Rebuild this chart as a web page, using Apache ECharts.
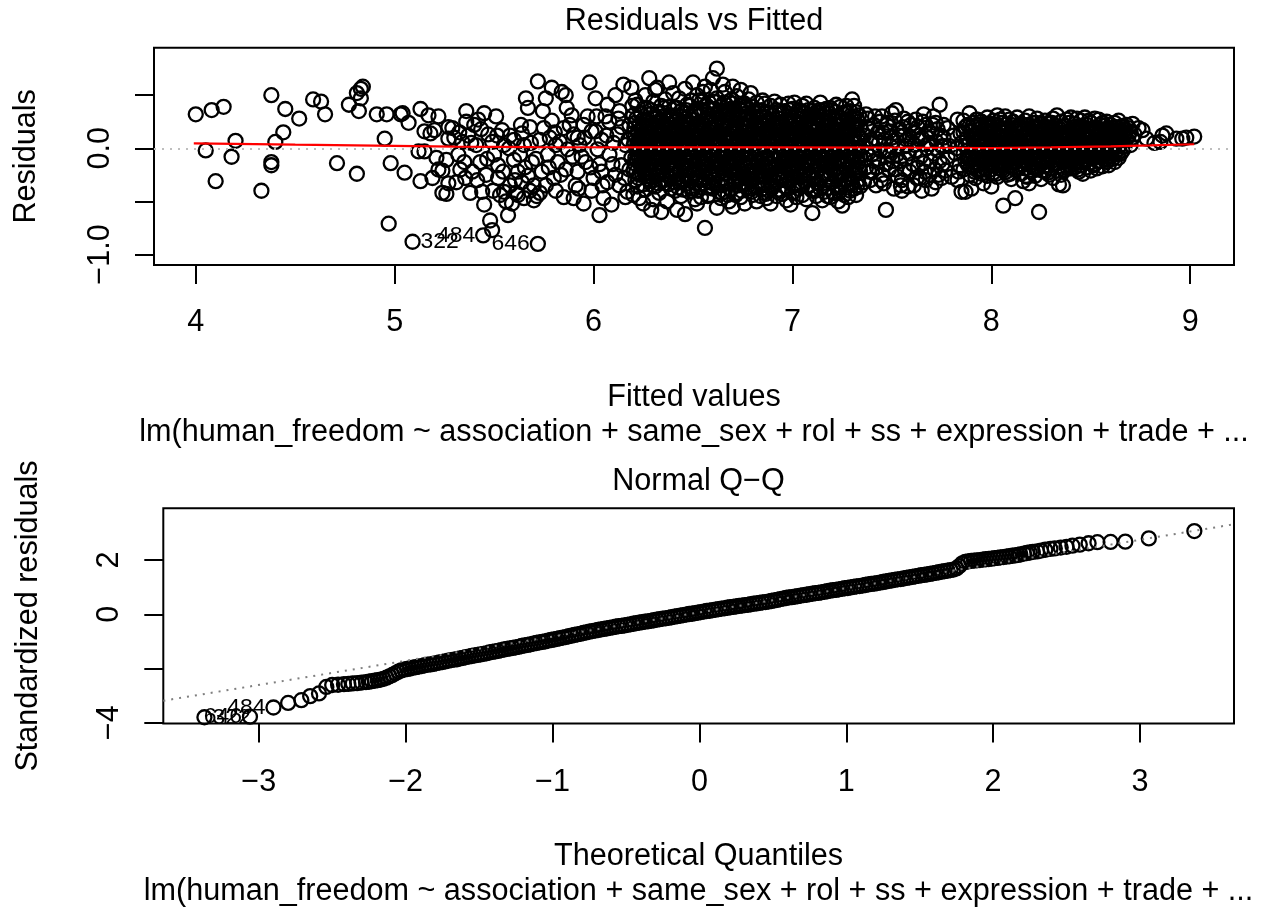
<!DOCTYPE html>
<html>
<head>
<meta charset="utf-8">
<title>lm diagnostics</title>
<script src="https://cdn.jsdelivr.net/npm/echarts@6.0.0/dist/echarts.min.js"></script>
<style>
  html, body { margin: 0; padding: 0; background: #fff; }
  #chart { width: 1272px; height: 911px; }
</style>
</head>
<body>
<div id="chart"></div>
<script>
// Residuals vs Fitted: [fitted, residual]
const residLeft = [[4.00,0.32],[4.05,-0.02],[4.08,0.36],[4.10,-0.31],[4.14,0.39],[4.18,-0.08],[4.20,0.07],[4.33,-0.40],[4.38,0.50],[4.38,-0.13],[4.38,-0.16],[4.40,0.06],[4.44,0.15],[4.45,0.37],[4.52,0.28],[4.59,0.46],[4.63,0.44],[4.65,0.32],[4.71,-0.14],[4.77,0.41],[4.81,-0.24],[4.82,0.35],[4.81,0.52],[4.83,0.56],[4.84,0.58],[4.83,0.47],[4.91,0.32],[4.95,0.09],[4.96,0.32],[4.97,-0.71],[4.98,-0.14],[5.03,0.32],[5.04,0.33],[5.05,-0.23],[5.07,0.24],[5.13,0.37],[5.12,-0.03],[5.13,-0.31],[5.15,-0.03],[5.17,0.31],[5.15,0.16],[5.18,0.14],[5.20,0.17],[5.19,-0.28],[5.22,0.30],[5.21,-0.09],[5.22,-0.20],[5.24,-0.42],[5.26,-0.43],[5.26,-0.11],[5.24,-0.21],[5.27,0.09],[5.27,0.20],[5.27,-0.33]]

const residMidA = [[5.29,0.19],[5.31,-0.32],[5.32,-0.06],[5.34,0.06],[5.35,-0.13],[5.36,0.35],[5.36,0.25],[5.38,-0.42],[5.39,-0.22],[5.40,0.22],[5.41,0.03],[5.43,-0.13],[5.44,-0.41],[5.45,0.33],[5.45,-0.53],[5.48,-0.68],[5.49,-0.77],[5.47,0.13],[5.49,0.06],[5.50,-0.06],[5.51,0.30],[5.52,-0.16],[5.52,-0.28],[5.54,0.17],[5.55,-0.41],[5.55,0.03],[5.56,-0.50],[5.57,-0.63],[5.58,-0.35],[5.60,-0.11],[5.60,0.08],[5.61,-0.42],[5.62,-0.22],[5.63,-0.06],[5.64,-0.32],[5.65,-0.47],[5.65,0.03],[5.66,0.47],[5.67,0.38],[5.68,0.20],[5.69,-0.13],[5.70,-0.49],[5.70,-0.35],[5.72,0.63],[5.73,0.08],[5.74,-0.22],[5.75,0.19],[5.76,0.47],[5.77,-0.06],[5.79,0.57],[5.79,0.26],[5.80,-0.28],[5.81,0.03],[5.82,-0.13],[5.84,0.53],[5.85,0.19],[5.85,-0.46],[5.86,0.50],[5.87,-0.01],[5.89,0.31],[5.90,0.13],[5.90,-0.47],[5.92,-0.22],[5.93,0.03],[5.95,-0.52],[5.95,0.22],[5.96,-0.13],[5.98,0.62],[5.99,0.16],[6.00,-0.28],[6.01,0.47],[6.02,-0.01],[6.03,-0.63],[6.04,0.08],[6.04,-0.22],[6.05,-0.47],[6.07,0.41],[6.08,0.25],[6.08,-0.06],[6.09,-0.53],[6.11,0.50],[6.12,0.13],[6.13,-0.35],[6.13,0.35],[6.14,-0.16],[6.15,0.60],[6.16,0.03],[6.17,-0.41],[6.18,0.22],[6.19,0.57],[6.19,-0.09],
  [5.30,0.10],[5.33,-0.20],[5.37,0.12],[5.42,0.27],[5.46,-0.25],[5.53,-0.44],[5.58,0.12],[5.59,-0.52],[5.62,-0.44],[5.64,0.14],[5.67,-0.26],[5.68,-0.40],[5.71,-0.10],[5.73,-0.42],[5.76,-0.35],[5.78,0.10],[5.81,-0.40],[5.83,0.06],[5.86,-0.20],[5.88,0.22],[5.91,-0.35],[5.92,0.10],[5.94,-0.08],[5.97,0.30],[5.99,-0.40],[6.01,0.16],[6.03,-0.15],[6.06,0.30],[6.07,-0.32],[6.10,0.05],[6.11,-0.25],[6.14,0.20],[6.16,-0.46],[6.18,-0.20],
  [5.325,0.15],[5.355,-0.28],[5.385,0.05],[5.415,-0.30],[5.435,0.18],[5.465,-0.10],[5.495,-0.40],[5.515,0.12],[5.545,-0.22],[5.575,0.00],[5.605,-0.30],[5.635,0.22],[5.655,-0.18],[5.685,0.05],[5.715,-0.45],[5.745,0.35],[5.775,-0.18],[5.805,0.15],[5.835,-0.25],[5.865,0.38],[5.895,-0.08],[5.925,-0.38],[5.955,0.10],[5.985,-0.18],[6.015,0.30],[6.045,-0.35],[6.065,0.12],[6.095,-0.15],[6.125,0.28],[6.155,-0.28],[6.175,0.08],[6.195,0.40]]

// dense part, one row per fitted value: [fitted, residuals...]
const residCore1 = [
  [6.20,0.31,0.02,-0.21,-0.44,0.14],[6.21,0.12,-0.09,-0.30,0.45,0.24],[6.22,0.41,0.05,-0.12,-0.36,-0.05],[6.23,0.22,-0.02,-0.47,0.10,-0.25],
  [6.24,0.33,0.18,-0.18,-0.08,0.01],[6.25,0.08,-0.34,0.27,-0.15,-0.52],[6.26,0.50,0.09,-0.24,-0.39,0.16],[6.27,0.26,-0.06,0.38,-0.20,0.03],
  [6.28,0.66,0.15,-0.01,-0.31,0.21],[6.29,0.36,-0.15,0.07,-0.27,-0.58],[6.30,0.28,0.04,-0.10,0.44,-0.48,0.11],[6.31,0.19,-0.04,-0.36,0.55,0.13],
  [6.32,0.57,0.07,-0.19,0.34,-0.23],[6.33,0.25,0.01,-0.13,-0.42,0.16],[6.34,0.13,-0.30,-0.60,0.40,-0.07],[6.35,0.30,0.06,-0.22,0.21,-0.11],
  [6.36,0.46,0.17,-0.05,-0.33,0.09],[6.37,0.10,-0.16,0.27,-0.01,-0.50],[6.38,0.39,0.23,-0.09,0.62,-0.27],[6.39,0.03,-0.26,0.14,0.31,-0.38],
  [6.40,0.52,0.29,-0.11,0.05,-0.20],[6.41,0.20,-0.03,-0.40,0.12,-0.17],[6.42,0.38,0.08,-0.24,-0.58,0.26],[6.43,0.47,-0.06,0.16,-0.32,-0.12],
  [6.44,0.24,0.06,-0.29,-0.45,0.13,0.35],[6.45,0.33,-0.02,-0.17,0.10,-0.39],[6.46,0.56,0.18,-0.08,-0.62,0.28],[6.47,0.12,-0.14,0.41,-0.25,0.02],
  [6.48,0.18,0.00,-0.41,0.30,-0.21],[6.49,0.45,0.07,-0.31,-0.05,0.23],[6.50,0.62,0.27,-0.08,-0.38,0.15,0.05],[6.51,0.36,-0.15,0.11,-0.24,-0.48],
  [6.52,0.50,0.21,0.02,-0.28,-0.52,0.35],[6.53,0.14,-0.10,0.30,-0.19,0.45],[6.54,0.36,0.11,-0.05,-0.34,-0.46,0.03],[6.55,0.22,-0.22,0.53,0.08,-0.13],
  [6.56,0.58,0.26,-0.10,-0.27,-0.75,0.17],[6.57,0.40,0.04,-0.16,-0.37,0.12],[6.58,0.43,0.16,-0.02,-0.31,-0.44,0.30],[6.59,0.25,-0.07,0.09,-0.21,0.55],
  [6.60,0.66,0.32,0.10,-0.06,-0.22,-0.38],[6.61,0.18,-0.12,0.37,-0.30,0.01],[6.62,0.75,0.22,0.04,-0.13,-0.56,0.47],[6.63,0.28,-0.04,0.13,-0.24,-0.41],
  [6.64,0.39,0.14,-0.18,-0.35,0.06,-0.47],[6.65,0.21,-0.09,0.31,0.60,-0.28],[6.66,0.53,0.25,0.07,-0.08,-0.24,-0.41,0.18],[6.67,0.11,-0.15,0.34,-0.33,0.02],
  [6.68,0.44,0.19,0.01,-0.15,-0.50,0.31],[6.69,0.27,-0.05,0.08,-0.26,-0.39],[6.70,0.29,0.09,-0.04,-0.21,-0.55,0.58,0.42],[6.71,0.16,-0.11,0.36,-0.30,0.03],
  [6.72,0.49,0.23,0.05,-0.11,-0.26,-0.42,0.14],[6.73,0.29,-0.02,-0.19,0.10,-0.35],[6.74,0.36,0.12,-0.17,-0.33,0.55,-0.46],[6.75,0.22,-0.07,0.04,-0.24,0.40],
  [6.76,0.42,0.20,0.02,-0.14,-0.28,-0.52,0.08],[6.77,0.33,-0.09,0.15,-0.37,-0.01],[6.78,0.31,0.10,-0.06,-0.22,-0.38,0.46,0.16],[6.79,0.25,-0.13,0.06,-0.29,0.52]
]

const residCore1b = [
  [6.205,0.19,-0.14,0.06],[6.215,-0.22,0.28,0.00],[6.225,0.15,-0.08,-0.28],[6.235,0.33,0.04,-0.15],[6.245,-0.25,0.11,-0.02],[6.255,0.20,-0.10,0.38],
  [6.265,-0.16,0.02,0.26],[6.275,0.13,-0.29,-0.04],[6.285,0.06,-0.20,0.32],[6.295,-0.09,0.22,-0.35],[6.305,0.17,-0.18,0.01],[6.315,-0.26,0.08,0.30],
  [6.325,0.21,-0.06,-0.33],[6.335,-0.21,0.33,0.05],[6.345,0.16,-0.15,0.25],[6.355,-0.04,0.38,-0.30],[6.365,0.27,-0.24,0.01],[6.375,0.19,-0.34,0.07],
  [6.385,-0.13,0.05,0.30],[6.395,0.22,-0.07,-0.19],[6.405,-0.32,0.15,0.38],[6.415,0.27,0.04,-0.25],[6.425,-0.10,0.18,-0.37],[6.435,0.06,-0.21,0.30],
  [6.445,-0.14,0.20,-0.02],[6.455,0.25,-0.30,0.04],[6.465,-0.19,0.11,0.36],[6.475,0.22,-0.06,-0.33],[6.485,0.09,-0.26,0.40],[6.495,-0.16,0.16,-0.40],
  [6.505,0.33,-0.20,-0.01],[6.515,0.00,0.23,-0.33],[6.525,-0.13,0.12,-0.40],[6.535,0.03,-0.30,0.22],[6.545,0.19,-0.17,0.44],[6.555,-0.05,0.36,-0.33],
  [6.565,0.10,-0.20,0.01],[6.575,0.28,-0.09,-0.45],[6.585,0.06,-0.25,0.37],[6.595,-0.14,0.18,-0.36],[6.605,0.23,-0.30,0.44],[6.615,0.08,-0.20,0.27],
  [6.625,-0.33,0.14,-0.06],[6.635,0.35,-0.14,0.04],[6.645,-0.04,0.24,-0.42],[6.655,0.12,-0.19,0.43],[6.665,-0.31,0.36,-0.01],[6.675,0.24,-0.06,-0.44],
  [6.685,-0.21,0.09,0.37],[6.695,0.17,-0.14,0.46],[6.705,0.20,-0.31,0.02],[6.715,-0.21,0.24,-0.44],[6.725,0.32,-0.02,-0.18],[6.735,0.04,-0.28,0.40],
  [6.745,-0.07,0.23,-0.40],[6.755,0.12,-0.16,0.32],[6.765,-0.33,0.29,-0.05],[6.775,0.05,-0.22,0.38],[6.785,0.21,-0.30,-0.13],[6.795,-0.05,0.14,-0.41]
]

const residCore2 = [
  [6.80,0.39,0.17,0.00,-0.29,-0.44],[6.81,0.24,-0.08,0.10,-0.18,-0.36],[6.82,0.43,0.05,-0.23,0.29,-0.50],[6.83,0.14,-0.12,0.35,-0.31,0.02],
  [6.84,0.30,0.08,-0.05,-0.26,-0.45,0.19],[6.85,0.45,-0.16,0.12,-0.38,0.23],[6.86,0.21,0.01,-0.09,-0.33,0.42],[6.87,0.34,-0.02,-0.21,0.15,-0.47],
  [6.88,0.26,0.09,-0.14,-0.40,0.05],[6.89,0.40,-0.06,0.18,-0.28,-0.52],[6.90,0.12,-0.19,0.31,0.03,-0.35],[6.91,0.44,0.22,-0.10,-0.25,0.07],
  [6.92,0.17,-0.04,-0.32,0.36,-0.45],[6.93,0.28,0.06,-0.16,0.13,-0.39],[6.94,0.41,-0.08,0.20,-0.27,0.00],[6.95,0.24,0.10,-0.13,-0.43,0.33],
  [6.96,0.35,-0.02,-0.22,0.15,-0.36],[6.97,0.19,0.04,-0.30,-0.49,0.27],[6.98,0.42,-0.11,0.09,-0.20,-0.04],[6.99,0.30,0.14,-0.17,-0.53,0.02],
  [7.00,0.37,0.21,-0.06,-0.29,-0.42,0.08],[7.01,0.11,-0.14,0.26,-0.35,0.43],[7.02,0.32,0.03,-0.23,0.17,-0.46],[7.03,0.22,-0.05,-0.38,0.07,0.36],
  [7.04,0.28,0.12,-0.10,-0.27,-0.01],[7.05,0.40,-0.18,0.19,-0.44,0.05],[7.06,0.15,-0.03,0.33,-0.31,-0.12],[7.07,0.25,0.08,-0.21,-0.48,0.42],
  [7.08,0.36,-0.09,0.13,-0.36,0.01],[7.09,0.20,0.04,-0.15,-0.26,0.30],[7.10,0.31,-0.61,0.10,-0.05,-0.40],[7.11,0.24,-0.12,0.16,-0.29,0.38],
  [7.12,0.34,0.02,-0.22,-0.45,0.09],[7.13,0.18,-0.07,0.27,-0.33,0.05],[7.14,0.43,0.12,-0.16,-0.38,-0.02],[7.15,0.26,0.06,-0.25,0.17,-0.49],
  [7.16,0.21,-0.10,0.33,-0.41,0.02],[7.17,0.37,0.14,-0.04,-0.30,0.08],[7.18,0.29,-0.15,0.20,-0.37,-0.06],[7.19,0.38,0.04,-0.23,0.12,-0.46],
  [7.20,0.36,0.19,-0.08,-0.32,0.01],[7.21,0.15,-0.13,0.27,-0.42,0.06],[7.22,0.41,0.09,-0.18,-0.27,-0.03],[7.23,0.30,0.02,-0.35,0.16,-0.50],
  [7.24,0.22,-0.09,0.11,-0.24,0.39],[7.25,0.33,0.13,-0.54,-0.15,0.00],[7.26,0.18,-0.04,-0.30,0.26,-0.44],[7.27,0.40,0.07,-0.20,0.14,-0.37],
  [7.28,0.27,-0.11,0.04,-0.46,0.21],[7.29,0.35,0.16,-0.06,-0.28,-0.40],[7.30,0.46,0.23,0.01,-0.17,-0.33],[7.31,0.30,-0.08,0.11,-0.38,0.40],
  [7.32,0.19,0.05,-0.24,-0.44,0.34],[7.33,0.25,-0.02,0.13,-0.30,-0.13],[7.34,0.19,-0.07,0.09,-0.21,-0.36]
]

const residCore2b = [
  [6.805,0.08,-0.21,0.30],[6.815,0.33,-0.01,-0.28],[6.825,-0.14,0.18,-0.37],[6.835,0.24,-0.21,0.07],[6.845,-0.11,0.36,-0.35],[6.855,0.02,-0.27,0.29],
  [6.865,0.14,-0.19,-0.43],[6.875,0.24,-0.10,0.05],[6.885,-0.25,0.33,0.16],[6.895,0.08,-0.15,-0.38],[6.905,0.21,-0.30,-0.06],[6.915,-0.17,0.11,0.33],
  [6.925,0.07,-0.24,0.24],[6.935,-0.07,0.35,-0.29],[6.945,0.11,-0.17,-0.40],[6.955,-0.05,0.18,-0.28],[6.965,0.26,-0.12,0.05],[6.975,-0.38,0.13,-0.08],
  [6.985,0.23,-0.31,0.36],[6.995,-0.08,0.07,-0.24],[7.005,0.15,-0.17,0.28],[7.015,-0.27,0.03,0.19],[7.025,0.11,-0.12,-0.34],[7.035,-0.20,0.24,0.00],
  [7.045,0.35,-0.36,0.06],[7.055,-0.07,0.12,-0.26],[7.065,0.21,-0.20,0.04],[7.075,-0.12,0.30,-0.36],[7.085,0.22,-0.24,-0.02],[7.095,-0.39,0.12,0.35],
  [7.105,0.20,-0.21,0.03],[7.115,-0.06,0.29,-0.40],[7.125,0.24,-0.33,-0.12],[7.135,0.11,-0.19,0.36],[7.145,-0.09,0.26,-0.28],[7.155,0.03,-0.14,0.36],
  [7.165,0.15,-0.24,-0.02],[7.175,-0.16,0.26,-0.45],[7.185,0.07,-0.27,0.33],[7.195,-0.12,0.22,-0.01],[7.205,0.10,-0.20,-0.42],[7.215,0.34,-0.04,-0.26],
  [7.225,-0.11,0.22,0.01],[7.235,0.07,-0.22,-0.41],[7.245,0.28,-0.03,-0.36],[7.255,-0.24,0.08,0.24],[7.265,0.11,-0.13,0.34],[7.275,-0.30,0.00,0.27],
  [7.285,0.14,-0.18,-0.33],[7.295,0.07,-0.11,0.28],[7.305,-0.07,0.12,-0.25],[7.315,0.22,-0.21,0.00],[7.325,-0.09,0.28,-0.35],[7.335,0.06,-0.18,0.31]
]

const residMidB = [[7.36,0.12],[7.37,-0.18],[7.38,0.28],[7.38,-0.05],[7.39,-0.30],[7.40,0.05],[7.41,0.22],[7.41,-0.12],[7.42,-0.35],[7.43,0.15],[7.44,-0.02],[7.45,0.30],[7.45,-0.25],[7.46,0.08],[7.47,-0.58],[7.47,-0.15],[7.48,0.24],[7.49,-0.06],[7.50,0.33],[7.50,0.10],[7.51,-0.38],[7.52,0.36],[7.52,-0.20],[7.53,0.02],[7.54,0.18],[7.55,-0.30],[7.55,-0.40],[7.56,0.12],[7.57,-0.10],[7.58,0.25],[7.59,-0.22],[7.60,0.06],[7.61,-0.35],[7.61,0.15],[7.62,-0.02],[7.63,0.20],[7.64,-0.28],[7.65,-0.40],[7.65,0.10],[7.66,-0.14],[7.67,0.22],[7.68,0.04],[7.69,-0.25],[7.70,0.14],[7.71,-0.05],[7.71,0.30],[7.72,-0.32],[7.73,0.18],[7.74,0.41],[7.74,-0.12],[7.75,0.02],[7.76,0.22],[7.77,-0.21],[7.78,0.19],[7.78,-0.08],[7.80,-0.27],[7.81,0.12],[7.82,-0.05],[7.83,0.27],[7.84,-0.16],[7.85,0.05],[7.85,-0.41],
  [7.36,-0.32],[7.37,0.32],[7.39,0.18],[7.40,-0.22],[7.42,0.09],[7.43,-0.10],[7.44,0.25],[7.46,-0.33],[7.48,-0.03],[7.49,0.16],[7.51,0.07],[7.53,-0.27],[7.54,-0.12],[7.56,0.28],[7.57,0.02],[7.58,-0.36],[7.59,0.11],[7.62,0.27],[7.63,-0.18],[7.64,0.08],[7.66,0.32],[7.67,-0.30],[7.69,0.05],[7.70,-0.38],[7.72,0.24],[7.73,-0.02],[7.75,-0.28],[7.76,0.10],[7.79,0.02],[7.83,-0.30],
  [7.355,0.02],[7.365,-0.10],[7.375,0.20],[7.385,-0.22],[7.395,0.08],[7.405,-0.05],[7.415,0.30],[7.425,-0.18],[7.435,0.05],[7.445,-0.30],[7.455,0.15],[7.465,-0.02],[7.475,0.22],[7.485,-0.20],[7.495,0.02],[7.505,-0.12],[7.515,0.26],[7.525,-0.06],[7.535,0.12],[7.545,-0.35],[7.555,0.20],[7.565,-0.20],[7.575,0.08],[7.585,-0.05],[7.595,0.22],[7.605,-0.15],[7.615,0.03],[7.625,-0.28],[7.635,0.12],[7.645,-0.08],[7.655,0.25],[7.665,-0.22],[7.675,0.00],[7.685,0.16],[7.695,-0.12],[7.705,0.22],[7.715,-0.20],[7.725,0.06],[7.735,-0.25],[7.745,0.12],[7.755,-0.15],[7.765,0.02],[7.825,0.00],[7.835,-0.22],[7.845,0.14]]

const residCore3 = [
  [7.86,0.15,-0.05,-0.20,0.26],[7.87,0.02,-0.41,0.20,-0.12],[7.88,0.10,-0.15,0.22,-0.02],[7.89,0.33,0.05,-0.25,-0.08],[7.90,0.17,-0.38,-0.03,0.12],
  [7.91,0.24,0.00,-0.17,0.08],[7.92,0.13,-0.10,-0.28,0.20],[7.93,0.06,-0.21,0.27,-0.04],[7.94,0.18,-0.07,0.02,-0.14],[7.95,0.25,0.09,-0.24,-0.01],
  [7.96,0.14,-0.12,0.04,-0.33],[7.97,0.21,-0.03,-0.19,0.10],[7.98,0.07,-0.09,0.29,-0.26],[7.99,0.16,0.01,-0.15,0.23],[8.00,0.11,-0.05,-0.36,0.19,-0.20],
  [8.01,0.26,0.03,-0.11,-0.23],[8.02,0.08,-0.16,0.17,-0.02],[8.03,0.31,0.13,-0.08,-0.27],[8.04,0.20,-0.01,-0.19,0.06],[8.05,0.10,-0.12,0.24,-0.06],
  [8.06,0.15,-0.54,-0.03,-0.21],[8.07,0.22,0.04,-0.14,0.30],[8.08,0.12,-0.09,0.19,-0.25],[8.09,0.27,0.02,-0.17,0.08],[8.10,0.16,-0.06,-0.29,0.22],
  [8.11,0.09,-0.13,0.25,-0.02],[8.12,0.19,-0.47,0.03,-0.20],[8.13,0.29,0.11,-0.10,-0.04],[8.14,0.14,-0.18,0.21,0.00],[8.15,0.23,0.06,-0.24,-0.08],
  [8.16,0.10,-0.12,0.17,-0.31],[8.17,0.26,0.02,-0.05,-0.19],[8.18,0.18,-0.09,0.08,-0.27],[8.19,0.30,0.13,-0.15,-0.33],[8.20,0.21,0.01,-0.07,-0.22],
  [8.21,0.11,-0.18,0.24,-0.03],[8.22,0.16,0.05,-0.11,-0.26],[8.23,0.28,-0.02,-0.20,0.09],[8.24,0.13,-0.60,-0.07,0.20],[8.25,0.23,0.04,-0.15,-0.29],
  [8.26,0.09,-0.10,0.17,-0.02],[8.27,0.19,0.00,-0.22,0.26],[8.28,0.14,-0.06,-0.16,0.07],[8.29,0.24,0.10,-0.12,-0.25],[8.30,0.17,-0.03,0.05,-0.19],
  [8.31,0.28,0.12,-0.09,-0.28],[8.32,0.08,-0.14,0.21,-0.01],[8.33,0.31,0.15,-0.06,-0.21],[8.34,0.19,0.02,-0.17,-0.34],[8.35,0.25,-0.08,0.11,-0.25],
  [8.36,0.14,0.03,-0.13,-0.35],[8.37,0.21,-0.04,0.08,-0.20],[8.38,0.27,0.12,-0.10,-0.03],[8.39,0.16,-0.16,0.05,0.24],[8.40,0.29,0.07,-0.07,-0.19],
  [8.41,0.12,-0.12,0.20,-0.01],[8.42,0.23,0.03,-0.18,0.10],[8.43,0.18,-0.05,-0.13,0.28],[8.44,0.09,-0.22,0.15,0.00],[8.45,0.26,0.06,-0.09,-0.16],
  [8.46,0.20,-0.02,0.11,-0.24],[8.47,0.13,-0.11,0.29,0.04],[8.48,0.22,0.08,-0.06,-0.18],[8.49,0.17,-0.14,0.02,0.26],[8.50,0.24,0.10,-0.04,-0.21],
  [8.51,0.14,-0.09,0.19,0.01],[8.52,0.28,0.06,-0.15,-0.05],[8.53,0.19,-0.03,0.11,-0.19],[8.54,0.27,0.13,-0.08,0.03],[8.55,0.16,-0.12,0.22,-0.02],
  [8.56,0.10,0.05,-0.17,0.24],[8.57,0.21,-0.06,0.14,-0.11],[8.58,0.25,0.02,-0.13,0.09],[8.59,0.18,-0.08,0.06,-0.16],[8.60,0.22,0.12,-0.03,0.00],
  [8.61,0.15,-0.10,0.19,0.05],[8.62,0.24,0.07,-0.06,-0.13],[8.63,0.13,-0.02,0.20,0.10],[8.64,0.26,0.04,-0.09],[8.65,0.17,-0.05,0.11],
  [8.66,0.21,0.08,-0.02],[8.67,0.14,0.18,0.02],[8.68,0.22,0.09],[8.69,0.12,0.19],[8.70,0.16,0.03],[8.71,0.23,0.10],[8.72,0.13]
]

const residCore3b = [
  [7.885,0.04,-0.10],[7.895,0.15,-0.18],[7.905,-0.06,0.21],[7.915,0.12,-0.22],[7.925,-0.01,0.27],[7.935,0.10,-0.15],[7.945,-0.20,0.22],[7.955,0.05,-0.07],
  [7.965,0.18,-0.23],[7.975,-0.10,0.06],[7.985,0.21,-0.02],[7.995,-0.08,0.09],[8.005,0.23,-0.14],[8.015,0.12,-0.05],[8.025,-0.24,0.05],[8.035,0.02,-0.13],
  [8.045,0.27,-0.09],[8.055,0.04,-0.17],[8.065,0.09,-0.07],[8.075,-0.22,0.16],[8.085,0.03,-0.04],[8.095,0.14,-0.24],[8.105,0.05,-0.10],[8.115,0.18,-0.07],
  [8.125,-0.13,0.10],[8.135,0.04,0.21],[8.145,-0.09,0.08],[8.155,0.16,-0.15],[8.165,-0.02,0.06],[8.175,0.13,-0.26],[8.185,-0.01,0.22],[8.195,0.07,-0.08],
  [8.205,0.13,-0.16],[8.215,0.04,-0.09],[8.225,0.24,-0.19],[8.235,0.06,-0.12],[8.245,-0.04,0.09],[8.255,0.16,-0.21],[8.265,0.05,-0.13],[8.275,0.10,-0.08],
  [8.285,-0.23,0.20],[8.295,0.02,-0.06],[8.305,0.24,-0.12],[8.315,0.03,0.18],[8.325,-0.07,0.09],[8.335,0.05,-0.14],[8.345,0.11,-0.09],[8.355,0.20,-0.03],
  [8.365,0.07,-0.21],[8.375,-0.12,0.14],[8.385,0.04,-0.19],[8.395,0.12,-0.08],[8.405,-0.02,0.18],[8.415,0.07,-0.15],[8.425,-0.06,0.15],[8.435,0.05,-0.20],
  [8.445,0.21,-0.04],[8.455,0.13,-0.13],[8.465,0.01,-0.06],[8.475,0.17,-0.12],[8.485,-0.01,0.09],[8.495,0.05,-0.14],[8.505,0.16,-0.09],[8.515,0.08,-0.16],
  [8.525,0.01,0.20],[8.535,0.07,-0.12],[8.545,0.18,-0.05],[8.555,0.06,-0.09],[8.565,0.13,0.01],[8.575,-0.03,0.18],[8.585,0.11,-0.11],[8.595,0.01,0.15],
  [8.605,0.07,-0.07],[8.615,0.14,0.02],[8.625,0.04,0.17],[8.635,-0.05,0.08],[8.645,0.14,0.02],[8.655,0.06,0.20]
]

const residRight = [[8.74,0.19],[8.76,0.17],[8.78,0.09],[8.82,0.05],[8.85,0.06],[8.86,0.12],[8.88,0.14],[8.93,0.09],[8.96,0.09],[8.98,0.10],[9.02,0.11]]

// labelled observations: [fitted, residual, id, side of label]
const residIds = [[5.09,-0.88,'322','right'],[5.445,-0.82,'484','left'],[5.72,-0.90,'646','left']]

// red smoother
const smoothPts = [[3.99,0.047],[4.5,0.034],[5.0,0.022],[5.3,0.015],[5.7,0.010],[6.2,0.008],[6.8,0.008],[7.4,0.006],[8.0,0.002],[8.3,0.008],[8.6,0.018],[8.8,0.027],[9.02,0.038]]

const fittedTicks = [4, 5, 6, 7, 8, 9]
const residTicks = [-1, -0.5, 0, 0.5]
const residTickLabels = [-1, 0]

// Normal Q-Q: [theoretical quantile, standardized residual]
const qqIds = [[-3.37,-3.80,'322','right'],[-3.06,-3.78,'646','left'],[-2.90,-3.44,'484','left']]

const qqLow = [[-2.80,-3.27],[-2.71,-3.17],[-2.65,-3.02],[-2.59,-2.92],[-2.54,-2.68],[-2.50,-2.61],[-2.46,-2.60],[-2.42,-2.58],[-2.39,-2.57],[-2.36,-2.55],[-2.33,-2.54],[-2.30,-2.52],[-2.27,-2.50],[-2.25,-2.49],[-2.23,-2.47],[-2.21,-2.45],[-2.19,-2.43],[-2.17,-2.41],[-2.15,-2.38],[-2.13,-2.34],[-2.11,-2.29],[-2.09,-2.24],[-2.07,-2.18],[-2.05,-2.12],[-2.03,-2.07]]

const qqMidLow = [[-2.01,-2.04],[-1.99,-2.02],[-1.97,-2.00],[-1.95,-1.97],[-1.93,-1.95],[-1.91,-1.93],[-1.89,-1.91],[-1.87,-1.88],[-1.85,-1.86],[-1.83,-1.85],[-1.81,-1.83],[-1.79,-1.80],[-1.77,-1.78],[-1.75,-1.76],[-1.73,-1.74],[-1.71,-1.71],[-1.69,-1.69],[-1.67,-1.67],[-1.65,-1.66],[-1.63,-1.63],[-1.61,-1.61],[-1.59,-1.58],[-1.57,-1.56],[-1.55,-1.54],[-1.53,-1.52],[-1.51,-1.50],[-1.49,-1.48],[-1.47,-1.46],[-1.45,-1.44],[-1.43,-1.41],[-1.41,-1.39],[-1.39,-1.37],[-1.37,-1.35],[-1.35,-1.32],[-1.33,-1.30],[-1.31,-1.28],[-1.29,-1.26],[-1.27,-1.24],[-1.25,-1.22],[-1.23,-1.20],[-1.21,-1.17],[-1.19,-1.15],[-1.17,-1.13],[-1.15,-1.11],[-1.13,-1.08],[-1.11,-1.06],[-1.09,-1.04],[-1.07,-1.02],[-1.05,-1.00],[-1.03,-0.97],[-1.01,-0.95]]

const qqMid = [[-0.99,-0.93],[-0.97,-0.91],[-0.95,-0.88],[-0.93,-0.86],[-0.91,-0.84],[-0.89,-0.81],[-0.87,-0.79],[-0.85,-0.76],[-0.83,-0.74],[-0.81,-0.72],[-0.79,-0.69],[-0.77,-0.67],[-0.75,-0.64],[-0.73,-0.62],[-0.71,-0.60],[-0.69,-0.58],[-0.67,-0.56],[-0.65,-0.54],[-0.63,-0.52],[-0.61,-0.50],[-0.59,-0.48],[-0.57,-0.46],[-0.55,-0.44],[-0.53,-0.43],[-0.51,-0.41],[-0.49,-0.39],[-0.47,-0.37],[-0.45,-0.35],[-0.43,-0.33],[-0.41,-0.31],[-0.39,-0.29],[-0.37,-0.27],[-0.35,-0.26],[-0.33,-0.24],[-0.31,-0.22],[-0.29,-0.20],[-0.27,-0.18],[-0.25,-0.16],[-0.23,-0.15],[-0.21,-0.13],[-0.19,-0.11],[-0.17,-0.09],[-0.15,-0.07],[-0.13,-0.05],[-0.11,-0.03],[-0.09,-0.01],[-0.07,0.01],[-0.05,0.02],[-0.03,0.04],[-0.01,0.06],
  [0.01,0.08],[0.03,0.10],[0.05,0.12],[0.07,0.13],[0.09,0.15],[0.11,0.17],[0.13,0.19],[0.15,0.21],[0.17,0.22],[0.19,0.24],[0.21,0.26],[0.23,0.27],[0.25,0.29],[0.27,0.31],[0.29,0.32],[0.31,0.34],[0.33,0.35],[0.35,0.37],[0.37,0.39],[0.39,0.40],[0.41,0.42],[0.43,0.44],[0.45,0.45],[0.47,0.47],[0.49,0.49],[0.51,0.51],[0.53,0.53],[0.55,0.56],[0.57,0.58],[0.59,0.60],[0.61,0.62],[0.63,0.63],[0.65,0.65],[0.67,0.67],[0.69,0.69],[0.71,0.71],[0.73,0.72],[0.75,0.74],[0.77,0.76],[0.79,0.78],[0.81,0.79],[0.83,0.81],[0.85,0.83],[0.87,0.85],[0.89,0.87],[0.91,0.89],[0.93,0.90],[0.95,0.92],[0.97,0.94],[0.99,0.96]]

const qqMidHigh = [[1.01,0.97],[1.03,0.99],[1.05,1.01],[1.07,1.03],[1.09,1.04],[1.11,1.06],[1.13,1.08],[1.15,1.10],[1.17,1.12],[1.19,1.13],[1.21,1.15],[1.23,1.17],[1.25,1.19],[1.27,1.21],[1.29,1.23],[1.31,1.25],[1.33,1.27],[1.35,1.29],[1.37,1.30],[1.39,1.32],[1.41,1.34],[1.43,1.36],[1.45,1.38],[1.47,1.40],[1.49,1.42],[1.51,1.44],[1.53,1.45],[1.55,1.47],[1.57,1.49],[1.59,1.51],[1.61,1.53],[1.63,1.55],[1.65,1.57],[1.67,1.59],[1.69,1.61],[1.71,1.63],[1.73,1.65],[1.75,1.69],[1.77,1.78],[1.79,1.88],[1.81,1.93],[1.83,1.95],[1.85,1.97],[1.87,1.98],[1.89,1.99],[1.91,2.00],[1.93,2.02],[1.95,2.03],[1.97,2.04],[1.99,2.05],[2.01,2.07],[2.03,2.08],[2.05,2.10],[2.07,2.11],[2.09,2.13],[2.11,2.14],[2.13,2.16],[2.15,2.17],[2.17,2.19],[2.185,2.21]]

const qqHigh = [[2.21,2.24],[2.23,2.26],[2.25,2.28],[2.27,2.30],[2.30,2.32],[2.326,2.35],[2.355,2.38],[2.39,2.41],[2.42,2.43],[2.46,2.46],[2.50,2.49],[2.54,2.53],[2.59,2.57],[2.65,2.62],[2.71,2.66],[2.80,2.67],[2.90,2.68],[3.06,2.80],[3.37,3.07]]

// dotted reference line (qqline): intercept, slope
const qqLine = [0.07, 0.893]

const quantTicks = [-3, -2, -1, 0, 1, 2, 3]
const stdTicks = [-4, -2, 0, 2]
const stdTickLabels = [-4, 0, 2]

const FONT = '"Liberation Sans", Arial, Helvetica, sans-serif'
const FS = 30.6
const subCaption = 'lm(human_freedom ~ association + same_sex + rol + ss + expression + trade + ...'

const minus = s => s.replace('-', '\u2212')
const rows = cols => cols.flatMap(([x, ...ys]) => ys.map(y => [x, y]))

const residData = [].concat(
  residLeft, residMidA,
  rows(residCore1), rows(residCore1b), rows(residCore2), rows(residCore2b),
  residMidB, rows(residCore3), rows(residCore3b), residRight
)
const qqData = [].concat(qqLow, qqMidLow, qqMid, qqMidHigh, qqHigh)

const SYM = 14
const ringStyle = { color: 'transparent', borderColor: '#000', borderWidth: 2.3, opacity: 1 }

const idItems = ids => ids.map(([x, y, id, side]) => ({
  value: [x, y],
  label: {
    show: true,
    formatter: id,
    position: 'inside',
    align: side === 'right' ? 'left' : 'right',
    verticalAlign: 'middle',
    offset: [side === 'right' ? 8 : -8, 0],
    fontSize: FS * 0.75,
    fontFamily: FONT,
    color: '#000',
    opacity: 1,
    textBorderWidth: 0
  }
}))

const text = (t, x, y, rot = 0) => ({
  type: 'text', x, y, rotation: rot, silent: true,
  style: { text: t, fontSize: FS, fontFamily: FONT, fill: '#000', align: 'center', verticalAlign: 'middle' }
})

const xAx = (grid, min, max, ticks, margin) => ({
  gridIndex: grid, type: 'value', min, max,
  axisLine: { show: false, onZero: false },
  axisTick: { show: true, length: 19, customValues: ticks, lineStyle: { color: '#000', width: 2 } },
  axisLabel: { customValues: ticks, margin, fontSize: FS, fontFamily: FONT, color: '#000', formatter: v => minus(String(v)) },
  splitLine: { show: false }
})

const yAx = (grid, min, max, ticks, labels, margin, fmt) => ({
  gridIndex: grid, type: 'value', min, max,
  axisLine: { show: false, onZero: false },
  axisTick: { show: true, length: 19, customValues: ticks, lineStyle: { color: '#000', width: 2 } },
  axisLabel: { customValues: labels, rotate: 90, margin, fontSize: FS, fontFamily: FONT, color: '#000', formatter: v => minus(fmt(v)) },
  splitLine: { show: false }
})

const chart = echarts.init(document.getElementById('chart'), null, { renderer: 'canvas' })

const xMin2 = -3.65
const xMax2 = 3.64

const ringSeries = (axis, data) => ({
  type: 'scatter', xAxisIndex: axis, yAxisIndex: axis, silent: true, progressive: 0,
  symbol: 'circle', symbolSize: SYM, itemStyle: ringStyle,
  data
})

chart.setOption({
  animation: false,
  backgroundColor: '#fff',
  grid: [
    { left: 154, top: 47.7, width: 1080, height: 217.3, show: true, borderColor: '#000', borderWidth: 2, outerBoundsMode: 'none' },
    { left: 163.3, top: 508.3, width: 1070.7, height: 215.2, show: true, borderColor: '#000', borderWidth: 2, outerBoundsMode: 'none' }
  ],
  xAxis: [
    xAx(0, 3.79, 9.22, fittedTicks, 42.5),
    xAx(1, xMin2, xMax2, quantTicks, 44)
  ],
  yAxis: [
    yAx(0, -1.099, 0.947, residTicks, residTickLabels, 38, v => Number(v).toFixed(1)),
    yAx(1, -4.03, 3.91, stdTicks, stdTickLabels, 38, v => String(v))
  ],
  graphic: [
    text('Residuals vs Fitted', 694, 21.1),
    text('Fitted values', 694, 397.1),
    text(subCaption, 694, 432.9),
    text('Residuals', 26.4, 156.4, Math.PI / 2),
    text('Normal Q\u2212Q', 698.5, 481.7),
    text('Theoretical Quantiles', 698.5, 856.1),
    text(subCaption, 698.5, 891.4),
    text('Standardized residuals', 28.4, 616, Math.PI / 2)
  ],
  series: [
    ringSeries(0, residData),
    ringSeries(0, idItems(residIds)),
    {
      type: 'line', xAxisIndex: 0, yAxisIndex: 0, silent: true,
      symbol: 'none', lineStyle: { color: '#ff0000', width: 2.2 },
      data: smoothPts,
      markLine: {
        silent: true, symbol: 'none', label: { show: false },
        lineStyle: { color: '#bebebe', type: [2, 6], width: 2 },
        data: [{ yAxis: 0 }]
      }
    },
    ringSeries(1, qqData),
    Object.assign(ringSeries(1, idItems(qqIds)), {
      markLine: {
        silent: true, symbol: 'none', label: { show: false },
        lineStyle: { color: '#7f7f7f', type: [2, 6], width: 2 },
        data: [[
          { coord: [xMin2, qqLine[0] + qqLine[1] * xMin2] },
          { coord: [xMax2, qqLine[0] + qqLine[1] * xMax2] }
        ]]
      }
    })
  ]
})

window.addEventListener('resize', () => chart.resize())
</script>
</body>
</html>
